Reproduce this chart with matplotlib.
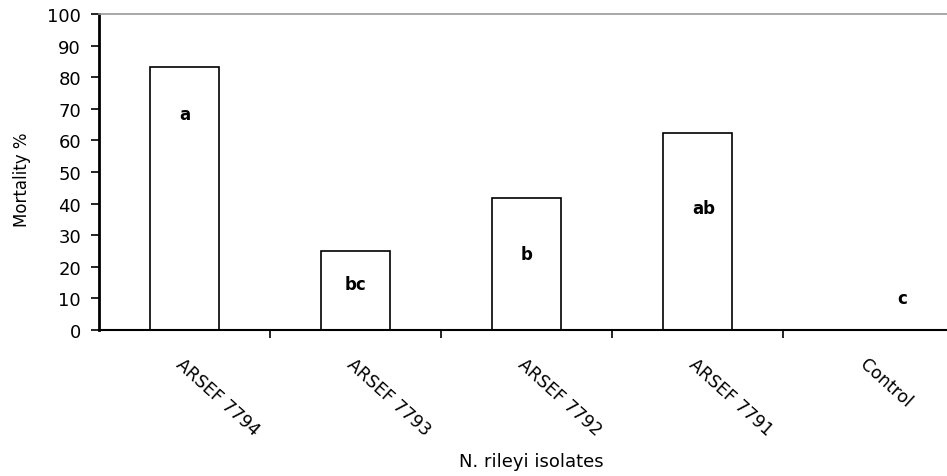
import matplotlib
matplotlib.use("Agg")
import matplotlib.pyplot as plt
import numpy as np

isolates = ['ARSEF 7794', 'ARSEF 7793', 'ARSEF 7792', 'ARSEF 7791', 'Control']
mortality = [83.3, 25.0, 41.7, 62.5, 0.0]
letters = ['a', 'bc', 'b', 'ab', 'c']
letter_y = [68.5, 14.5, 24, 38.5, 10]
letter_dx = [0.0, 0.0, 0.0, 0.04, 0.2]

plt.rcParams['font.family'] = ['DejaVu Sans']

fig = plt.figure(figsize=(9.47, 4.77), dpi=100)
ax = fig.add_axes([99 / 947, 1 - 331 / 477, 1 - 99 / 947, 316 / 477])

x = np.arange(len(isolates))
ax.bar(x, mortality, width=0.4, color='white', edgecolor='black', linewidth=1.2)

for xi, lab, ly, dx in zip(x, letters, letter_y, letter_dx):
    ax.text(xi + dx, ly, lab, ha='center', va='center', fontsize=12, fontweight='bold')

ax.set_xlim(-0.5, 4.46)
ax.set_ylim(0, 100)
ax.set_yticks(range(0, 101, 10))
ax.tick_params(axis='y', labelsize=13, direction='out', length=6, width=1.2, pad=7)

ax.set_xticks(x)
ax.set_xticklabels(isolates, rotation=-42, ha='left', va='top', rotation_mode='anchor', fontsize=12.5)
ax.tick_params(axis='x', which='major', length=0, pad=18)
ax.set_xticks(np.arange(0.5, 4.5, 1), minor=True)
ax.tick_params(axis='x', which='minor', direction='out', length=6, width=1.2)

ax.spines['right'].set_visible(False)
ax.spines['top'].set_color('#999999')
ax.spines['top'].set_linewidth(1.2)
ax.spines['left'].set_linewidth(2)
ax.spines['bottom'].set_linewidth(1.5)

ax.set_ylabel('Mortality %', fontsize=12)
ax.yaxis.label.set_va('center')
ax.yaxis.set_label_coords(-(99 - 22) / 848, (331 - 180) / 316)
ax.set_xlabel('N. rileyi isolates', fontsize=13)
ax.xaxis.label.set_va('center')
ax.xaxis.set_label_coords((531 - 99) / 848, -(462 - 331) / 316)

fig.savefig('out.png', dpi=100)
